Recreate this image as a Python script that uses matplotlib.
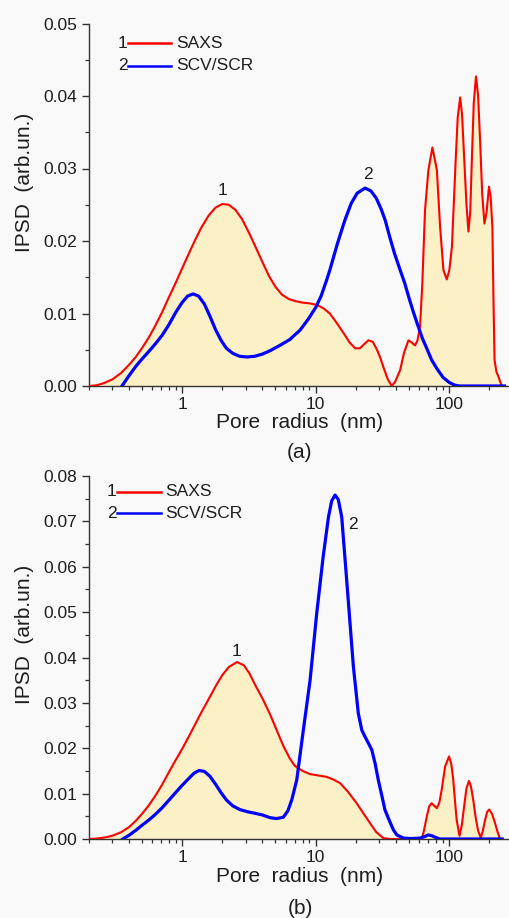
import matplotlib
matplotlib.use("Agg")
import matplotlib.pyplot as plt
from matplotlib.ticker import LogLocator, FixedLocator, MultipleLocator, NullFormatter, FormatStrFormatter

plt.rcParams['font.family'] = ['Liberation Sans', 'DejaVu Sans']

# ---------------- data (a) ----------------
a_saxs_x = [0.20, 0.23, 0.26, 0.30, 0.35, 0.40, 0.45, 0.50, 0.56, 0.63, 0.71, 0.80, 0.90, 1.00, 1.12,
            1.25, 1.40, 1.58, 1.78, 2.00, 2.24, 2.51, 2.82, 3.16, 3.55, 4.00, 4.47, 5.00, 5.60, 6.30,
            7.10, 8.00, 9.00, 10.2, 11.5, 12.8, 14.4, 16.2, 18.0, 19.8, 21.5, 23.2, 24.9, 26.8, 28.5,
            30.4, 32.5, 34.8, 37.2, 39.5, 43.0, 46.0, 49.6, 52.5, 55.6, 58.0, 60.6, 63.0, 66.0, 70.0,
            75.0, 81.0, 85.7, 90.7, 96.0, 100.5, 105.0, 112.0, 116.0, 121.0, 125.0, 130.0, 135.0,
            139.6, 144.0, 148.0, 153.0, 159.0, 165.0, 171.0, 177.0, 184.0, 191.0, 199.0, 205.0,
            211.0, 215.0, 219.0, 226.0, 234.0, 248.0]
a_saxs_y = [0.0000, 0.0001, 0.0004, 0.0009, 0.0018, 0.0029, 0.0040, 0.0052, 0.0066, 0.0083, 0.0102,
            0.0123, 0.0143, 0.0162, 0.0182, 0.0201, 0.0219, 0.0235, 0.0246, 0.0251, 0.0250, 0.0243,
            0.0230, 0.0212, 0.0192, 0.0171, 0.0152, 0.0137, 0.0126, 0.0120, 0.0117, 0.0115, 0.0114,
            0.0112, 0.0107, 0.0100, 0.0087, 0.0073, 0.0060, 0.0052, 0.0052, 0.0058, 0.0063, 0.0061,
            0.0052, 0.0040, 0.0024, 0.0009, 0.0000, 0.0006, 0.0022, 0.0046, 0.0063, 0.0060, 0.0056,
            0.0063, 0.0082, 0.0140, 0.0242, 0.0298, 0.0329, 0.0298, 0.0219, 0.0160, 0.0147, 0.0160,
            0.0192, 0.0311, 0.0370, 0.0398, 0.0375, 0.0311, 0.0250, 0.0213, 0.0240, 0.0311, 0.0390,
            0.0427, 0.0400, 0.0335, 0.0265, 0.0224, 0.0240, 0.0275, 0.0260, 0.0219, 0.0120, 0.0036,
            0.0020, 0.0013, 0.0000]

a_scv_x = [0.355, 0.40, 0.45, 0.50, 0.56, 0.63, 0.71, 0.80, 0.90, 1.00, 1.10, 1.21, 1.33, 1.47, 1.62,
           1.78, 1.96, 2.15, 2.40, 2.70, 3.07, 3.50, 4.00, 4.60, 5.40, 6.40, 7.65, 8.80, 10.0, 11.0,
           12.1, 12.8, 14.5, 16.6, 18.5, 20.5, 23.5, 26.0, 28.5, 31.0, 33.2, 36.0, 39.0, 43.0, 46.5,
           50.0, 54.0, 58.0, 63.0, 68.0, 74.0, 81.0, 90.0, 100.0, 111.0, 120.0, 260.0]
a_scv_y = [0.0000, 0.0014, 0.0027, 0.0037, 0.0047, 0.0058, 0.0070, 0.0085, 0.0102, 0.0115, 0.0124,
           0.0127, 0.0124, 0.0113, 0.0096, 0.0078, 0.0063, 0.0052, 0.0045, 0.0041, 0.0040, 0.0041,
           0.0044, 0.0049, 0.0056, 0.0064, 0.0077, 0.0092, 0.0108, 0.0124, 0.0146, 0.0160, 0.0195,
           0.0229, 0.0252, 0.0266, 0.0273, 0.0269, 0.0259, 0.0244, 0.0229, 0.0205, 0.0183, 0.0160,
           0.0142, 0.0122, 0.0102, 0.0085, 0.0066, 0.0052, 0.0036, 0.0024, 0.0012, 0.0005, 0.0001,
           0.0000, 0.0000]

# ---------------- data (b) ----------------
b_saxs_x = [0.20, 0.23, 0.26, 0.30, 0.35, 0.40, 0.45, 0.50, 0.56, 0.63, 0.71, 0.80, 0.90, 1.00, 1.12,
            1.25, 1.40, 1.58, 1.78, 2.00, 2.24, 2.58, 2.90, 3.20, 3.55, 4.00, 4.56, 5.20, 5.74, 6.40,
            7.00, 8.00, 9.10, 10.5, 12.1, 13.6, 15.3, 17.5, 20.3, 23.0, 25.6, 28.5, 32.2, 36.0, 62.4,
            65.0, 68.0, 71.0, 74.0, 77.5, 81.0, 84.5, 88.0, 93.4, 100.0, 104.0, 107.5, 111.0, 114.0,
            119.7, 124.5, 129.5, 135.0, 141.0, 146.0, 151.6, 158.0, 165.0, 172.7, 179.0, 186.0, 193.0,
            200.0, 210.0, 221.0, 231.0, 241.0]
b_saxs_y = [0.0000, 0.0001, 0.0003, 0.0007, 0.0015, 0.0026, 0.0040, 0.0055, 0.0073, 0.0095, 0.0120,
            0.0148, 0.0175, 0.0198, 0.0225, 0.0252, 0.0280, 0.0308, 0.0336, 0.0361, 0.0379, 0.0390,
            0.0383, 0.0365, 0.0338, 0.0310, 0.0275, 0.0235, 0.0205, 0.0178, 0.0161, 0.0150, 0.0143,
            0.0140, 0.0137, 0.0131, 0.0123, 0.0104, 0.0079, 0.0055, 0.0035, 0.0015, 0.0002, 0.0000,
            0.0000, 0.0020, 0.0049, 0.0072, 0.0079, 0.0073, 0.0068, 0.0080, 0.0108, 0.0160, 0.0182,
            0.0165, 0.0130, 0.0080, 0.0042, 0.0007, 0.0030, 0.0071, 0.0112, 0.0128, 0.0115, 0.0086,
            0.0048, 0.0018, 0.0003, 0.0018, 0.0042, 0.0060, 0.0065, 0.0055, 0.0035, 0.0015, 0.0000]

b_scv_x = [0.36, 0.40, 0.45, 0.50, 0.56, 0.63, 0.71, 0.80, 0.90, 1.00, 1.12, 1.23, 1.34, 1.47, 1.62,
           1.78, 1.96, 2.15, 2.40, 2.70, 3.10, 3.60, 4.00, 4.56, 5.10, 5.74, 6.20, 6.63, 7.23, 8.10,
           9.10, 10.2, 11.4, 12.5, 13.2, 14.0, 14.8, 15.7, 17.1, 19.2, 20.9, 22.2, 23.5, 25.0, 26.4,
           28.0, 29.5, 31.5, 33.1, 36.0, 38.3, 40.6, 45.5, 52.0, 60.6, 65.0, 70.0, 74.5, 78.5, 85.0,
           250.0]
b_scv_y = [0.0000, 0.0008, 0.0019, 0.0030, 0.0041, 0.0054, 0.0069, 0.0086, 0.0103, 0.0118, 0.0133,
           0.0145, 0.0151, 0.0149, 0.0138, 0.0121, 0.0102, 0.0086, 0.0073, 0.0065, 0.0060, 0.0056,
           0.0053, 0.0047, 0.0045, 0.0048, 0.0062, 0.0086, 0.0130, 0.0240, 0.0350, 0.0497, 0.0622,
           0.0710, 0.0745, 0.0758, 0.0748, 0.0710, 0.0571, 0.0380, 0.0277, 0.0240, 0.0225, 0.0210,
           0.0196, 0.0165, 0.0130, 0.0093, 0.0064, 0.0038, 0.0020, 0.0009, 0.0002, 0.0001, 0.0002,
           0.0005, 0.0009, 0.0007, 0.0004, 0.0000, 0.0000]

legend_labels = ["SAXS", "SCV/SCR"]
legend_nums = ["1", "2"]
x_ticks = [1, 10, 100]
x_tick_labels = ["1", "10", "100"]
xlabel = "Pore  radius  (nm)"
ylabel = "IPSD  (arb.un.)"

RED = "#ff0000"
BLUE = "#0000ff"
FILL = "#fcf0c6"
BG = "#f9f9f9"
TXT = "#1e1e1e"

W, H = 510, 918
fig = plt.figure(figsize=(W / 100, H / 100), dpi=100, facecolor=BG)


def px_axes(left, top, right, bottom):
    return fig.add_axes([left / W, 1 - bottom / H, (right - left) / W, (bottom - top) / H])


def style(ax, ymax, ystep):
    ax.set_facecolor(BG)
    ax.set_xscale('log')
    ax.set_xlim(0.2, 281)
    ax.set_ylim(0, ymax)
    for s in ['top', 'right']:
        ax.spines[s].set_visible(False)
    for s in ['left', 'bottom']:
        ax.spines[s].set_color('#333333')
        ax.spines[s].set_linewidth(1.0)
    ax.xaxis.set_major_locator(FixedLocator(x_ticks))
    ax.set_xticklabels(x_tick_labels)
    ax.xaxis.set_minor_locator(LogLocator(base=10, subs=range(2, 10), numticks=20))
    ax.xaxis.set_minor_formatter(NullFormatter())
    ax.yaxis.set_major_locator(MultipleLocator(ystep))
    ax.yaxis.set_minor_locator(MultipleLocator(ystep / 2))
    ax.yaxis.set_major_formatter(FormatStrFormatter('%.2f'))
    ax.tick_params(which='major', direction='out', length=5, width=1.0, labelsize=12.5,
                   colors='#333333', labelcolor=TXT, pad=3)
    ax.tick_params(which='minor', direction='out', length=3, width=0.9, colors='#333333')


def draw(ax, sx, sy, bx, by):
    ax.fill_between(sx, 0, sy, color=FILL, lw=0, zorder=1)
    ax.plot(sx, sy, color=RED, lw=1.5, zorder=3, solid_joinstyle='round')
    ax.plot(bx, by, color=BLUE, lw=2.3, zorder=4, solid_joinstyle='round')


def legend(ax, xnum, x0, x1, xt, y1, y2):
    for num, lab, col, yy in zip(legend_nums, legend_labels, [RED, BLUE], [y1, y2]):
        ax.text(xnum, yy, num, transform=ax.transAxes, ha='right', va='center', fontsize=12.5,
                color=TXT)
        ax.plot([x0, x1], [yy, yy], transform=ax.transAxes, color=col, lw=1.8, clip_on=False)
        ax.text(xt, yy, lab, transform=ax.transAxes, ha='left', va='center', fontsize=12.5,
                color=TXT)


# panel (a)
ax1 = px_axes(88.7, 23.5, 509, 386)
style(ax1, 0.05, 0.01)
draw(ax1, a_saxs_x, a_saxs_y, a_scv_x, a_scv_y)
legend(ax1, 0.093, 0.0936, 0.196, 0.207, 0.946, 0.884)
ax1.text(2.0, 0.0270, "1", ha='center', va='center', fontsize=12.5, color=TXT)
ax1.text(24.7, 0.0292, "2", ha='center', va='center', fontsize=12.5, color=TXT)

# panel (b)
ax2 = px_axes(88.7, 476, 509, 839)
style(ax2, 0.08, 0.01)
draw(ax2, b_saxs_x, b_saxs_y, b_scv_x, b_scv_y)
legend(ax2, 0.067, 0.0676, 0.172, 0.183, 0.956, 0.898)
ax2.text(2.58, 0.0413, "1", ha='center', va='center', fontsize=12.5, color=TXT)
ax2.text(19.2, 0.0693, "2", ha='center', va='center', fontsize=12.5, color=TXT)

# labels
for yl, yc, ytag, tag in [(423, 182, 453, "(a)"), (877, 634, 908, "(b)")]:
    fig.text(300 / W, 1 - yl / H, xlabel, ha='center', va='center', fontsize=15, color=TXT)
    fig.text(300 / W, 1 - ytag / H, tag, ha='center', va='center', fontsize=15, color=TXT)
    fig.text(25 / W, 1 - yc / H, ylabel, ha='center', va='center', rotation=90, fontsize=15,
             color=TXT)

fig.savefig("out.png", dpi=100, facecolor=BG)
